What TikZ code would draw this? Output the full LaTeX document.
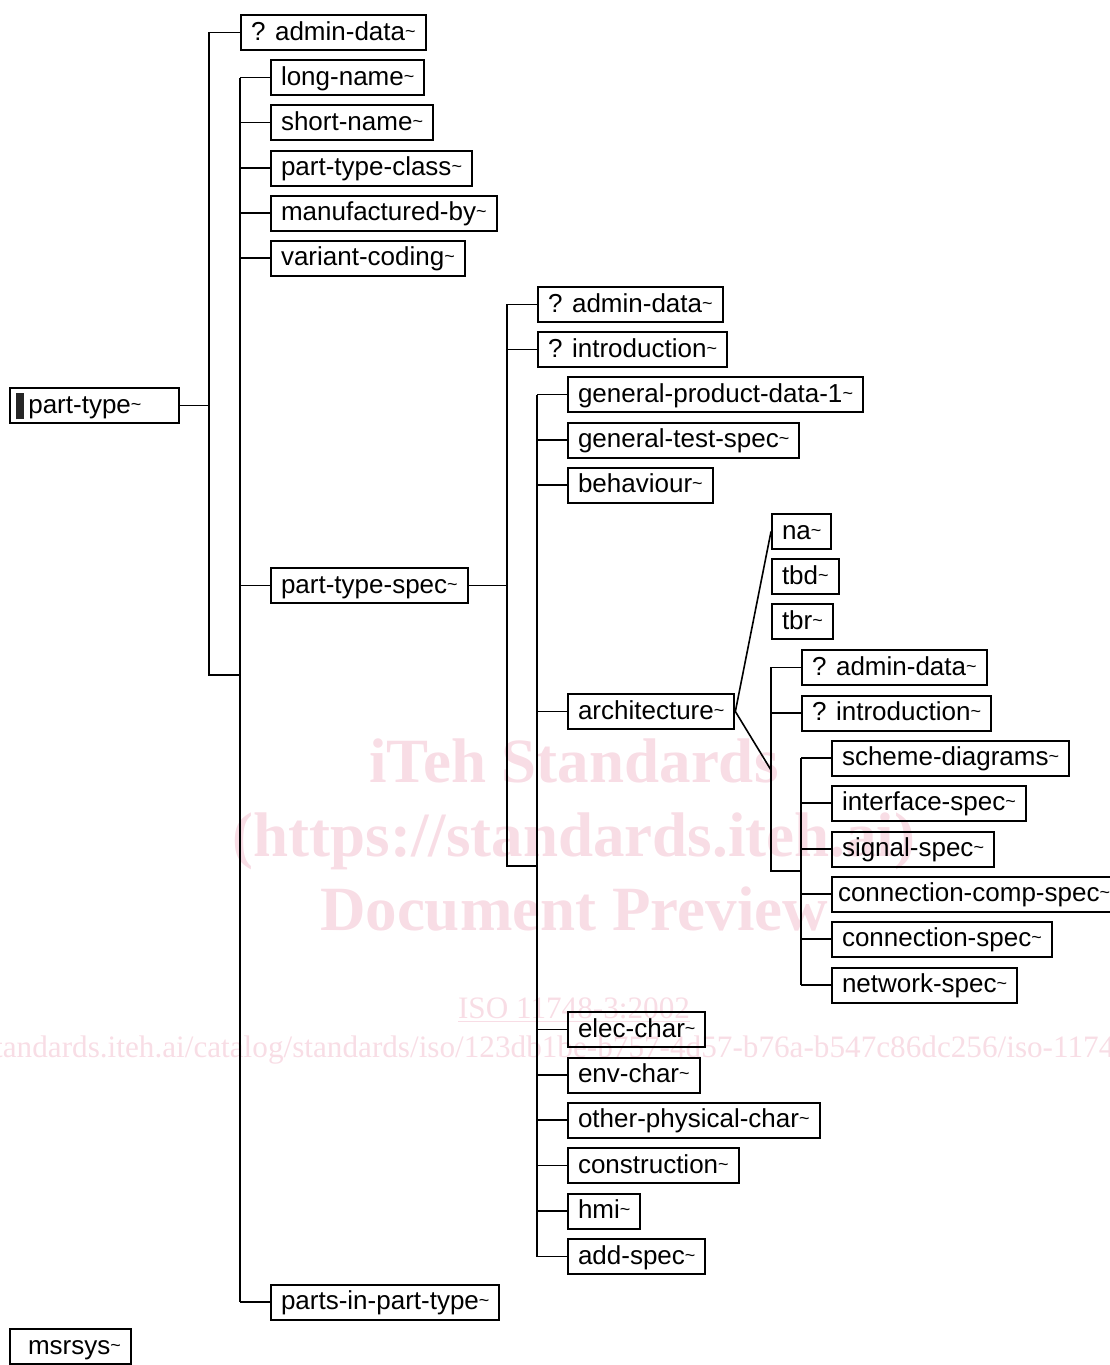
\documentclass[tikz,border=0pt]{standalone}
\usepackage{fontspec}
\setmainfont{Liberation Sans}
\newfontfamily\wmfont{Liberation Serif}
\usepackage{xcolor}
\usetikzlibrary{positioning, calc}
\definecolor{wmpink}{RGB}{248,221,229}
\newcommand{\tld}{\raisebox{1.3pt}{\fontsize{9}{9}\selectfont\textasciitilde}}
\newcommand{\cursorblk}{{\color{black!85}\rule[-3.2pt]{4pt}{13pt}}}

\begin{document}
\begin{tikzpicture}[
  x=0.5pt, y=-0.5pt,
  every node/.style={font=\fontsize{13}{15}\selectfont},
  box/.style={draw, line width=1pt, anchor=west, minimum height=17.5pt, inner xsep=5pt, inner ysep=0pt, text height=10pt, text depth=2.5pt},
  link/.style={line width=0.8pt},
  wm/.style={text=wmpink, inner sep=0pt}
]
  \useasboundingbox (0,0) rectangle (1109,1365);

  % watermark
  \node[wm, font=\wmfont\bfseries\fontsize{31.5}{37}\selectfont, align=center] (wmtitle) at (574,835) {iTeh Standards\\(https://standards.iteh.ai)\\Document Preview};
  \node[wm, font=\wmfont\fontsize{15.6}{18}\selectfont] (wmiso) at (574,1010) {\underline{ISO 11748-3:2002}};
  \node[wm, font=\wmfont\fontsize{15.6}{18}\selectfont] (wmurl) at (562,1050) {https://standards.iteh.ai/catalog/standards/iso/123db1be-b757-4d57-b76a-b547c86dc256/iso-11748-3-2002};

  % bars
  \coordinate (b1) at (209,0);
  \coordinate (b2) at (240,0);
  \coordinate (b3) at (507,0);
  \coordinate (b4) at (537,0);
  \coordinate (b5) at (771,0);
  \coordinate (b6) at (801,0);
  \coordinate (j1) at (209,675);
  \coordinate (j3) at (507,866);
  \coordinate (j5) at (771,770);
  \coordinate (j6) at (771,871);

  % roots
  \node[box, inner xsep=3pt, text width=78.5pt, align=left] (pt) at (9,405.5) {\cursorblk\,part-type\tld};
  \node[box] (msr) at (9,1346.5) {\hspace{4pt}msrsys\tld};

  % part-type
  \node[box] (ad1) at (240,32.5) {? admin-data\tld};
  \node[box] (ln) at (270,77.5) {long-name\tld};
  \node[box] (sn) at (270,122.5) {short-name\tld};
  \node[box] (ptc) at (270,168) {part-type-class\tld};
  \node[box] (mb) at (270,213) {manufactured-by\tld};
  \node[box] (vc) at (270,258) {variant-coding\tld};
  \node[box] (pts) at (270,585.5) {part-type-spec\tld};
  \node[box] (pipt) at (270,1302) {parts-in-part-type\tld};

  % part-type-spec
  \node[box] (ad2) at (537,304.5) {? admin-data\tld};
  \node[box] (in2) at (537,349.5) {? introduction\tld};
  \node[box] (gpd) at (567,394.5) {general-product-data-1\tld};
  \node[box] (gts) at (567,440) {general-test-spec\tld};
  \node[box] (beh) at (567,485) {behaviour\tld};
  \node[box] (arch) at (567,711.5) {architecture\tld};
  \node[box] (ec) at (567,1029.5) {elec-char\tld};
  \node[box] (envc) at (567,1075) {env-char\tld};
  \node[box] (opc) at (567,1120) {other-physical-char\tld};
  \node[box] (con) at (567,1165.5) {construction\tld};
  \node[box] (hmi) at (567,1211) {hmi\tld};
  \node[box] (adds) at (567,1256.5) {add-spec\tld};

  % architecture
  \node[box] (na) at (771,531.5) {na\tld};
  \node[box] (tbd) at (771,576.5) {tbd\tld};
  \node[box] (tbr) at (771,621.5) {tbr\tld};
  \node[box] (ad3) at (801,667.5) {? admin-data\tld};
  \node[box] (in3) at (801,713) {? introduction\tld};
  \node[box] (sd) at (831,758) {scheme-diagrams\tld};
  \node[box] (ifs) at (831,803) {interface-spec\tld};
  \node[box] (sig) at (831,849) {signal-spec\tld};
  \node[box, inner xsep=3pt] (ccs) at (831,894) {connection-comp-spec\tld};
  \node[box] (cns) at (831,939) {connection-spec\tld};
  \node[box] (nws) at (831,985) {network-spec\tld};

  % connectors
  \draw[link] (pt.east) -- (pt.east -| b1);
  \draw[link] (ad1.west) -- (ad1.west -| b1) -- (j1) -- (j1 -| b2);
  \draw[link] (ln.west -| b2) -- (pipt.west -| b2);
  \foreach \c in {ln,sn,ptc,mb,vc,pts,pipt}
    \draw[link] (\c.west) -- (\c.west -| b2);

  \draw[link] (pts.east) -- (pts.east -| b3);
  \draw[link] (ad2.west) -- (ad2.west -| b3) -- (j3) -- (j3 -| b4);
  \draw[link] (in2.west) -- (in2.west -| b3);
  \draw[link] (gpd.west -| b4) -- (adds.west -| b4);
  \foreach \c in {gpd,gts,beh,arch,ec,envc,opc,con,hmi,adds}
    \draw[link] (\c.west) -- (\c.west -| b4);

  \draw[link] (na.west) -- (arch.east) -- (j5);
  \draw[link] (ad3.west) -- (ad3.west -| b5) -- (j6) -- (j6 -| b6);
  \draw[link] (in3.west) -- (in3.west -| b5);
  \draw[link] (sd.west -| b6) -- (nws.west -| b6);
  \foreach \c in {sd,ifs,sig,ccs,cns,nws}
    \draw[link] (\c.west) -- (\c.west -| b6);
\end{tikzpicture}
\end{document}
